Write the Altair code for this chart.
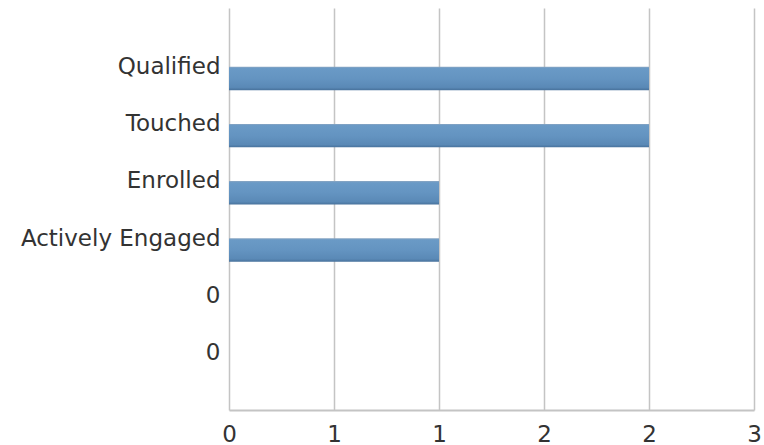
import altair as alt
import pandas as pd

# Funnel stages, top to bottom, and their counts
stages = ["Qualified", "Touched", "Enrolled", "Actively Engaged", "0", "0"]
counts = [2, 2, 1, 1, 0, 0]

# X axis ticks
x_ticks = [0, 0.5, 1, 1.5, 2, 2.5]

df = pd.DataFrame({
    "idx": list(range(len(stages))),
    "stage": stages,
    "count": counts,
})

label_expr = "[" + ",".join("'" + s + "'" for s in stages) + "][datum.value]"

bar_fill = {
    "gradient": "linear",
    "x1": 0, "y1": 0, "x2": 0, "y2": 1,
    "stops": [
        {"offset": 0.0, "color": "#8aa6c2"},
        {"offset": 0.07, "color": "#6a9ac6"},
        {"offset": 0.5, "color": "#6494c1"},
        {"offset": 0.88, "color": "#5a89b6"},
        {"offset": 1.0, "color": "#47719b"},
    ],
}

chart = alt.Chart(df).mark_bar(fill=bar_fill).encode(
    x=alt.X(
        "count:Q",
        scale=alt.Scale(domain=[0, 2.5], nice=False),
        axis=alt.Axis(
            values=x_ticks,
            format=".0f",
            title=None,
            ticks=False,
            tickSize=0,
            grid=True,
            gridColor="#c4c4c4",
            gridWidth=1.5,
            domainColor="#c4c4c4",
            domainWidth=2,
            labelPadding=13,
            labelFlush=False,
        ),
    ),
    y=alt.Y(
        "idx:O",
        scale=alt.Scale(paddingInner=0.59, paddingOuter=0.81, align=0.634),
        axis=alt.Axis(
            labelExpr=label_expr,
            title=None,
            ticks=False,
            tickSize=0,
            domain=False,
            labelOffset=-11.5,
            labelPadding=9,
            labelBaseline="middle",
            labelLimit=0,
        ),
    ),
).properties(
    width=525,
    height=402,
    autosize=alt.AutoSizeParams(type="none"),
    padding={"left": 229, "top": 8, "right": 10, "bottom": 35},
).configure_view(
    stroke=None
).configure_axis(
    labelFont="DejaVu Sans",
    labelFontSize=23,
    labelColor="#333333",
)

chart.save("out.html", embed_options={"renderer": "svg", "actions": False})
